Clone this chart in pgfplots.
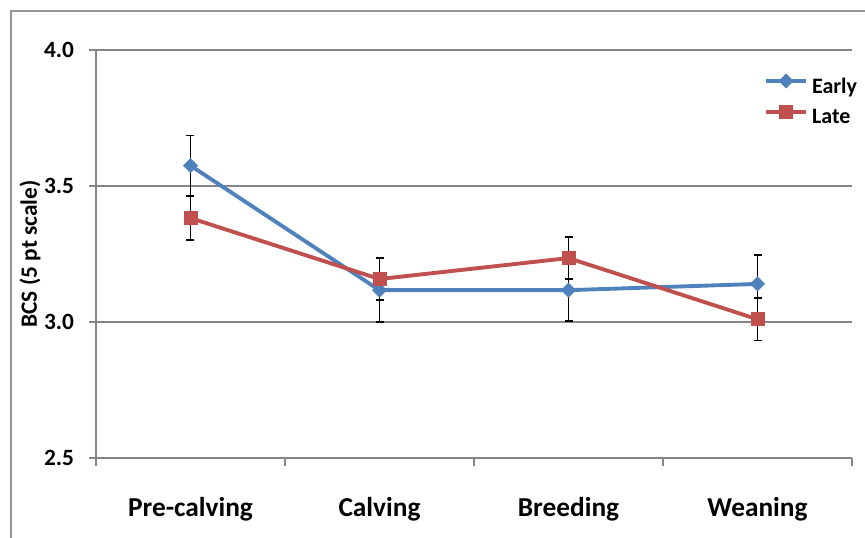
\documentclass[border=0pt]{standalone}
\usepackage{pgfplots}
\pgfplotsset{compat=1.18}
\usepackage{fontspec}
\setmainfont{Carlito}
\definecolor{eblue}{RGB}{79,129,189}
\definecolor{lred}{RGB}{192,80,77}
\definecolor{axgray}{RGB}{134,134,134}
\definecolor{bordgray}{RGB}{150,150,150}
\begin{document}
\begin{tikzpicture}
\useasboundingbox (0,0) rectangle (648.75pt,402.75pt);
\draw[bordgray, line width=0.9pt] (8.25pt,-20pt) -- (8.25pt,394.5pt) -- (670pt,394.5pt);
\begin{axis}[
  at={(72pt,59.25pt)}, anchor=south west,
  scale only axis, width=567pt, height=306pt,
  xmin=-0.5, xmax=3.5, ymin=2.5, ymax=4.0,
  axis x line*=bottom, axis y line*=left,
  axis line style={axgray, line width=1.1pt},
  xtick={0,1,2,3},
  xticklabels={Pre-calving,Calving,Breeding,Weaning},
  major x tick style={draw=none},
  minor xtick={-0.5,0.5,1.5,2.5,3.5},
  minor x tick style={axgray, line width=1.1pt},
  minor tick length=6pt,
  ytick={2.5,3.0,3.5,4.0},
  yticklabels={2.5,3.0,3.5,4.0},
  major y tick style={axgray, line width=1.1pt},
  major tick length=5pt,
  tick align=outside,
  ymajorgrids,
  grid style={axgray, line width=1.1pt},
  /pgf/number format/assume math mode=true,
  yticklabel style={font=\bfseries\fontsize{17.5}{20}\selectfont, anchor=east, xshift=-8pt},
  xticklabel style={font=\bfseries\fontsize{20.5}{24}\selectfont, anchor=base, yshift=-39pt},
  ylabel={BCS (5 pt scale)},
  every axis y label/.style={at={(axis description cs:0,0.5)}, rotate=90, anchor=center, yshift=49.5pt, font=\bfseries\fontsize{17.5}{20}\selectfont},
  legend style={at={(1,0.941)}, anchor=north east, draw=none, fill=none,
    font=\bfseries\fontsize{16.5}{19}\selectfont, row sep=6pt,
    inner sep=0pt, outer sep=0pt, xshift=3.75pt,
    nodes={inner sep=0pt, outer sep=0pt, text height=12pt, text depth=3pt}},
  legend cell align=left,
  legend image code/.code={\draw[mark repeat=2,mark phase=2,#1] plot coordinates {(0pt,4.5pt) (15pt,4.5pt) (30pt,4.5pt)};},
  clip=false,
]
\addplot[eblue, line width=2.9pt, mark=square*, mark size=3.7pt,
  mark options={rotate=45, solid, fill=eblue, draw=eblue, line width=0.5pt}]
  coordinates {(0,3.575) (1,3.117) (2,3.117) (3,3.140)};
\addlegendentry{\hspace{3pt}Early}
\addplot[lred, line width=2.9pt, mark=square*, mark size=4.9pt,
  mark options={solid, fill=lred, draw=lred, line width=0.5pt}]
  coordinates {(0,3.382) (1,3.158) (2,3.235) (3,3.010)};
\addlegendentry{\hspace{3pt}Late}
\addplot[draw=none, mark=none, forget plot,
  error bars/.cd, y dir=both, y explicit,
  error bar style={black, line width=1.2pt},
  error mark options={black, rotate=90, mark size=3pt, line width=1.2pt}]
  coordinates {(0,3.575) +- (0,0.110) (1,3.117) +- (0,0.117) (2,3.117) +- (0,0.114) (3,3.140) +- (0,0.106)};
\addplot[draw=none, mark=none, forget plot,
  error bars/.cd, y dir=both, y explicit,
  error bar style={black, line width=1.2pt},
  error mark options={black, rotate=90, mark size=3pt, line width=1.2pt}]
  coordinates {(0,3.382) +- (0,0.081) (1,3.158) +- (0,0.077) (2,3.235) +- (0,0.077) (3,3.010) +- (0,0.078)};
\end{axis}
\end{tikzpicture}
\end{document}
